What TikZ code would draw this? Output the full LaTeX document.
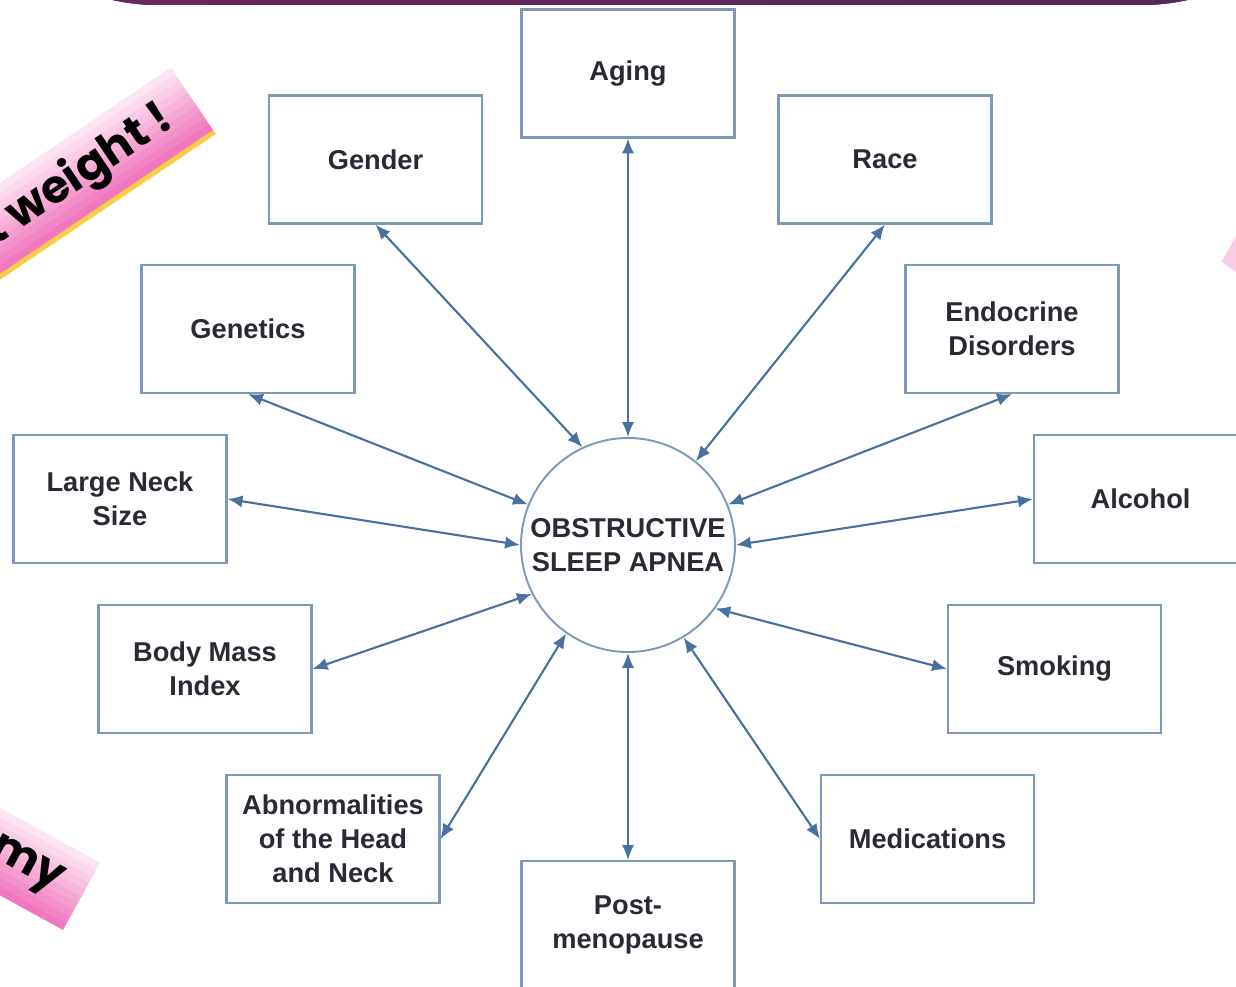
\documentclass[tikz,border=0pt]{standalone}
\usepackage{fontspec}
\setmainfont{Liberation Sans}
\newfontfamily\bannerfont{Poppins}
\usetikzlibrary{arrows.meta}
\definecolor{boxEdge}{RGB}{125,152,185}
\definecolor{linkBlue}{RGB}{72,112,160}
\definecolor{labelInk}{RGB}{42,42,54}
\definecolor{bannerPink}{RGB}{240,120,190}
\definecolor{bannerLight}{RGB}{255,240,248}
\definecolor{bannerGold}{RGB}{250,205,70}
\definecolor{barPurple}{RGB}{110,40,95}
\definecolor{barDeep}{RGB}{80,40,88}
\tikzstyle{factorBox}=[shape = rectangle, minimum width = 4.26cm, minimum height = 2.56cm, inner sep = 2pt, draw = boxEdge, line width = 1.2pt, fill = white, align = center, text = labelInk, font = \bfseries\fontsize{15.5}{19.4}\selectfont]
\tikzstyle{apneaCircle}=[shape = circle, minimum size = 4.28cm, inner sep = 0pt, draw = boxEdge, line width = 1.1pt, align = center, text = labelInk, font = \bfseries\fontsize{15.5}{19.4}\selectfont]

\begin{document}
\begin{tikzpicture}[scale = 2]
\tikzstyle{linkArrow}=[draw = linkBlue, line width = 1.2pt, >={Latex[length = 8.5pt, width = 7pt]}, <->]
\tikzstyle{bannerText}=[inner sep = 0pt, text = black, font = \bannerfont\bfseries\fontsize{26}{30}\selectfont]
\useasboundingbox (0,0) rectangle (12.36,-9.86);
\clip (0,0) rectangle (12.36,-9.86);
% Slide decorations
\fill[left color = barPurple, right color = barDeep, rounded corners = 4.16cm] (-0.5,-0.05) rectangle (13.5,3);
\begin{scope}[shift = {(2.13,-1.30)}, rotate = 34]
\fill[bannerGold] (-4,-0.05) rectangle (0,0.01);
\foreach \k in {0,...,9}
  \fill[bannerLight!\k0!bannerPink] (-4,\k*0.075) rectangle (0,{(\k+1)*0.075+0.003});
\node[bannerText, anchor = east, rotate = 34] (weightText) at (-0.28,0.37) {t weight !};
\end{scope}
\begin{scope}[shift = {(0.63,-9.30)}, rotate = -28.8]
\foreach \k in {0,...,9}
  \fill[bannerLight!\k0!bannerPink] (-4,\k*0.0765) rectangle (0,{(\k+1)*0.0765+0.003});
\node[bannerText, anchor = east, rotate = -28.8] (myText) at (-0.24,0.37) {my};
\end{scope}
\fill[bannerLight!70!bannerPink] (12.217,-2.617) -- ++(0.489,0.872) -- ++(0.814,-0.581) -- ++(-0.489,-0.872) -- cycle;
% Factors
\node[factorBox] (aging) at (6.28,-0.735) {Aging};
\node[factorBox] (gender) at (3.755,-1.595) {Gender};
\node[factorBox] (race) at (8.85,-1.595) {Race};
\node[factorBox] (genetics) at (2.48,-3.29) {Genetics};
\node[factorBox] (endocrine) at (10.12,-3.29) {Endocrine\\Disorders};
\node[factorBox] (neck) at (1.20,-4.99) {Large Neck\\Size};
\node[factorBox] (alcohol) at (11.405,-4.99) {Alcohol};
\node[factorBox] (bmi) at (2.05,-6.69) {Body Mass\\Index};
\node[factorBox] (smoking) at (10.545,-6.69) {Smoking};
\node[factorBox] (headNeck) at (3.33,-8.39) {Abnormalities\\of the Head\\and Neck};
\node[factorBox] (medications) at (9.275,-8.39) {Medications};
\node[factorBox] (menopause) at (6.28,-9.25) {Post-\\menopause};
% Centre
\node[apneaCircle] (osa) at (6.28,-5.45) {OBSTRUCTIVE\\SLEEP APNEA};
% Links
\draw[linkArrow] (aging.south) -- (osa.90);
\draw[linkArrow] (gender.south) -- (osa.115);
\draw[linkArrow] (race.south) -- (osa.51);
\draw[linkArrow] (genetics.south) -- (osa.158);
\draw[linkArrow] (endocrine.south) -- (osa.22);
\draw[linkArrow] (neck.east) -- (osa.180);
\draw[linkArrow] (alcohol.west) -- (osa.0);
\draw[linkArrow] (bmi.east) -- (osa.207);
\draw[linkArrow] (smoking.west) -- (osa.324);
\draw[linkArrow] (headNeck.east) -- (osa.235);
\draw[linkArrow] (medications.west) -- (osa.301);
\draw[linkArrow] (menopause.north) -- (osa.270);
\end{tikzpicture}
\end{document}
